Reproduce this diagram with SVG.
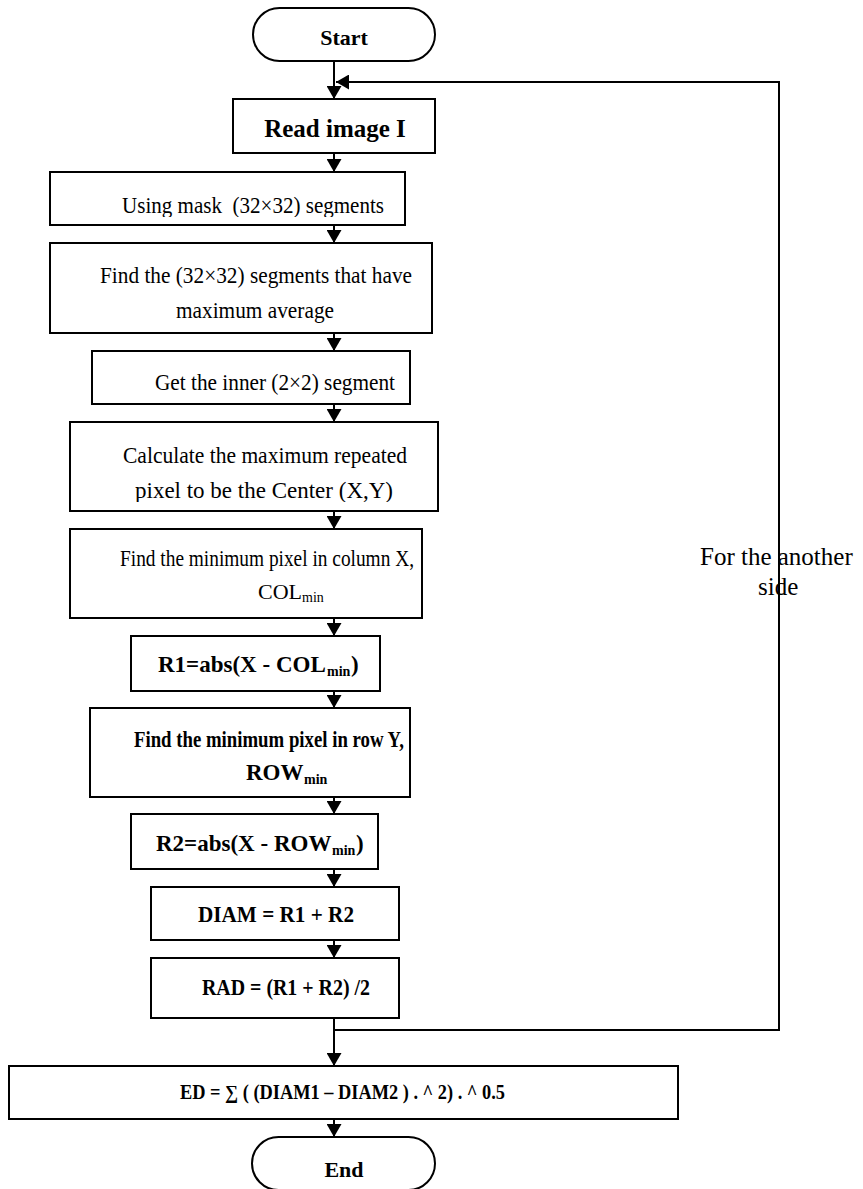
<svg xmlns="http://www.w3.org/2000/svg" width="863" height="1189" viewBox="0 0 863 1189">
<style>
.box{fill:#fff;stroke:#000;stroke-width:2}
.t{font-family:"Liberation Serif","Times New Roman",serif;fill:#000}
.r{font-size:24px}
.b{font-size:23px;font-weight:bold}
.sr{font-size:14px}
.sb{font-size:14px;font-weight:bold}
.c{stroke:#000;stroke-width:2;fill:none}
</style>
<defs>
<marker id="ah" markerUnits="userSpaceOnUse" markerWidth="13" markerHeight="15" refX="13" refY="7.5" orient="auto">
<path d="M0,0 L13,7.5 L0,15 z" fill="#000"/>
</marker>
<clipPath id="c1"><rect x="50" y="172" width="355" height="45"/></clipPath>
<clipPath id="c2"><rect x="50" y="243" width="382" height="80"/></clipPath>
<clipPath id="c3"><rect x="92" y="351" width="318" height="44"/></clipPath>
<clipPath id="c4"><rect x="70" y="422" width="368" height="80"/></clipPath>
</defs>
<g id="connectors">
<line class="c" x1="334" y1="61" x2="334" y2="99" marker-end="url(#ah)"/>
<line class="c" x1="334" y1="153" x2="334" y2="172" marker-end="url(#ah)"/>
<line class="c" x1="334" y1="225" x2="334" y2="243" marker-end="url(#ah)"/>
<line class="c" x1="334" y1="333" x2="334" y2="351" marker-end="url(#ah)"/>
<line class="c" x1="334" y1="404" x2="334" y2="422" marker-end="url(#ah)"/>
<line class="c" x1="334" y1="511" x2="334" y2="529" marker-end="url(#ah)"/>
<line class="c" x1="334" y1="618" x2="334" y2="636" marker-end="url(#ah)"/>
<line class="c" x1="334" y1="691" x2="334" y2="708" marker-end="url(#ah)"/>
<line class="c" x1="334" y1="797" x2="334" y2="814" marker-end="url(#ah)"/>
<line class="c" x1="334" y1="869" x2="334" y2="887" marker-end="url(#ah)"/>
<line class="c" x1="334" y1="940" x2="334" y2="958" marker-end="url(#ah)"/>
<line class="c" x1="334" y1="1018" x2="334" y2="1066" marker-end="url(#ah)"/>
<line class="c" x1="334" y1="1119" x2="334" y2="1137" marker-end="url(#ah)"/>
<polyline class="c" points="334,1030 779,1030 779,82 336,82" marker-end="url(#ah)"/>
<text class="t" x="700" y="565" font-size="25">For the another</text>
<text class="t" x="758" y="595" font-size="25">side</text>
</g>
<g id="start">
<rect class="box" x="253" y="8" width="182" height="53" rx="26.5"/>
<text class="t" x="344" y="45" font-size="22" font-weight="bold" text-anchor="middle">Start</text>
</g>
<g id="read">
<rect class="box" x="233" y="99" width="202" height="54"/>
<text class="t" x="335" y="137" font-size="25" font-weight="bold" text-anchor="middle">Read image I</text>
</g>
<g id="mask">
<rect class="box" x="50" y="172" width="355" height="53"/>
<text class="t r" x="122" y="213" textLength="262" lengthAdjust="spacingAndGlyphs" clip-path="url(#c1)" xml:space="preserve">Using mask  (32×32) segments</text>
</g>
<g id="findseg">
<rect class="box" x="50" y="243" width="382" height="90"/>
<g clip-path="url(#c2)">
<text class="t r" x="100" y="283" textLength="312" lengthAdjust="spacingAndGlyphs">Find the (32×32) segments that have</text>
<text class="t r" x="176" y="318" textLength="158" lengthAdjust="spacingAndGlyphs">maximum average</text>
</g>
</g>
<g id="inner">
<rect class="box" x="92" y="351" width="318" height="53"/>
<text class="t r" x="155" y="390" textLength="240" lengthAdjust="spacingAndGlyphs" clip-path="url(#c3)">Get the inner (2×2) segment</text>
</g>
<g id="center">
<rect class="box" x="70" y="422" width="368" height="89"/>
<g clip-path="url(#c4)">
<text class="t r" x="123" y="463" textLength="284" lengthAdjust="spacingAndGlyphs">Calculate the maximum repeated</text>
<text class="t r" x="135" y="498" textLength="258" lengthAdjust="spacingAndGlyphs">pixel to be the Center (X,Y)</text>
</g>
</g>
<g id="mincol">
<rect class="box" x="70" y="529" width="352" height="89"/>
<text class="t r" x="120" y="566" textLength="294" lengthAdjust="spacingAndGlyphs">Find the minimum pixel in column X,</text>
<text class="t" x="258" y="599" font-size="22">COL</text>
<text class="t sr" x="302" y="602">min</text>
</g>
<g id="r1">
<rect class="box" x="131" y="636" width="249" height="55"/>
<text class="t b" x="158" y="672">R1=abs(X - COL</text>
<text class="t sb" x="327" y="676">min</text>
<text class="t b" x="351" y="672">)</text>
</g>
<g id="minrow">
<rect class="box" x="90" y="708" width="320" height="89"/>
<text class="t b" x="134" y="747" textLength="270" lengthAdjust="spacingAndGlyphs">Find the minimum pixel in row Y,</text>
<text class="t b" x="246" y="780">ROW</text>
<text class="t sb" x="304" y="784">min</text>
</g>
<g id="r2">
<rect class="box" x="131" y="814" width="247" height="55"/>
<text class="t b" x="156" y="851">R2=abs(X - ROW</text>
<text class="t sb" x="332" y="855">min</text>
<text class="t b" x="356" y="851">)</text>
</g>
<g id="diam">
<rect class="box" x="151" y="887" width="248" height="53"/>
<text class="t b" x="198" y="922" textLength="156" lengthAdjust="spacingAndGlyphs">DIAM = R1 + R2</text>
</g>
<g id="rad">
<rect class="box" x="151" y="958" width="248" height="60"/>
<text class="t b" x="202" y="995" textLength="168" lengthAdjust="spacingAndGlyphs">RAD = (R1 + R2) /2</text>
</g>
<g id="ed">
<rect class="box" x="9" y="1066" width="669" height="53"/>
<text class="t" x="180" y="1099" font-size="20" font-weight="bold" textLength="325" lengthAdjust="spacingAndGlyphs">ED = ∑ ( (DIAM1 – DIAM2 ) . ^ 2) . ^ 0.5</text>
</g>
<g id="end">
<rect class="box" x="252" y="1137" width="183" height="53" rx="26.5"/>
<text class="t" x="344" y="1177" font-size="22" font-weight="bold" text-anchor="middle">End</text>
</g>
</svg>
